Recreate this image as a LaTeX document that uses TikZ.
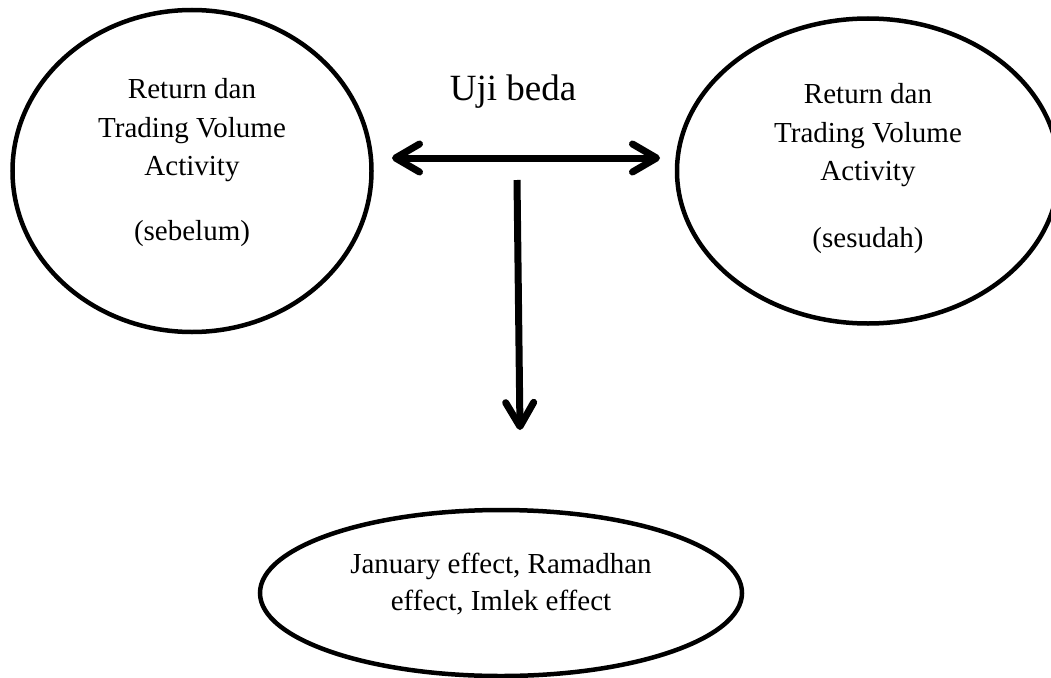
\documentclass[tikz,border=0pt]{standalone}
\usepackage{fontspec}
\setmainfont{Liberation Serif}
\usetikzlibrary{arrows.meta,shapes.geometric}
\begin{document}
\begin{tikzpicture}[x=1pt,y=-1pt,
  oval/.style={draw=black, line width=4.5pt, ellipse, inner sep=0pt},
  lbl/.style={anchor=base, inner sep=0pt, font=\fontsize{29}{35}\selectfont},
  ttl/.style={anchor=base, inner sep=0pt, font=\fontsize{37}{44}\selectfont},
  barb/.tip={Straight Barb[length=24pt,width=28pt,round]},
  conn/.style={line width=7pt},
]
\useasboundingbox (0,0) rectangle (1051,677);
% ellipses
\node[oval, minimum width=359pt, minimum height=322pt] (L) at (192,171) {};
\node[oval, minimum width=382pt, minimum height=305pt] (R) at (868,171) {};
\node[oval, minimum width=482pt, minimum height=166pt] (B) at (501,593) {};
% left text
\node[lbl] (l1) at (192,98) {Return dan};
\node[lbl] (l2) at (192,137) {Trading Volume};
\node[lbl] (l3) at (192,175) {Activity};
\node[lbl] (l4) at (192,240) {(sebelum)};
% right text
\node[lbl] (r1) at (868,103) {Return dan};
\node[lbl] (r2) at (868,142) {Trading Volume};
\node[lbl] (r3) at (868,180) {Activity};
\node[lbl] (r4) at (868,247) {(sesudah)};
% bottom text
\node[lbl] (b1) at (501,573) {January effect, Ramadhan};
\node[lbl] (b2) at (501,610) {effect, Imlek effect};
% title
\node[ttl] (t) at (513,100) {Uji beda};
% arrows
\coordinate (hA) at (392,158);
\coordinate (hB) at (660,158);
\coordinate (vA) at (517,180);
\coordinate (vB) at (520,430);
\draw[conn, barb-barb] (hA) -- (hB);
\draw[conn, -barb] (vA) -- (vB);
\end{tikzpicture}
\end{document}
